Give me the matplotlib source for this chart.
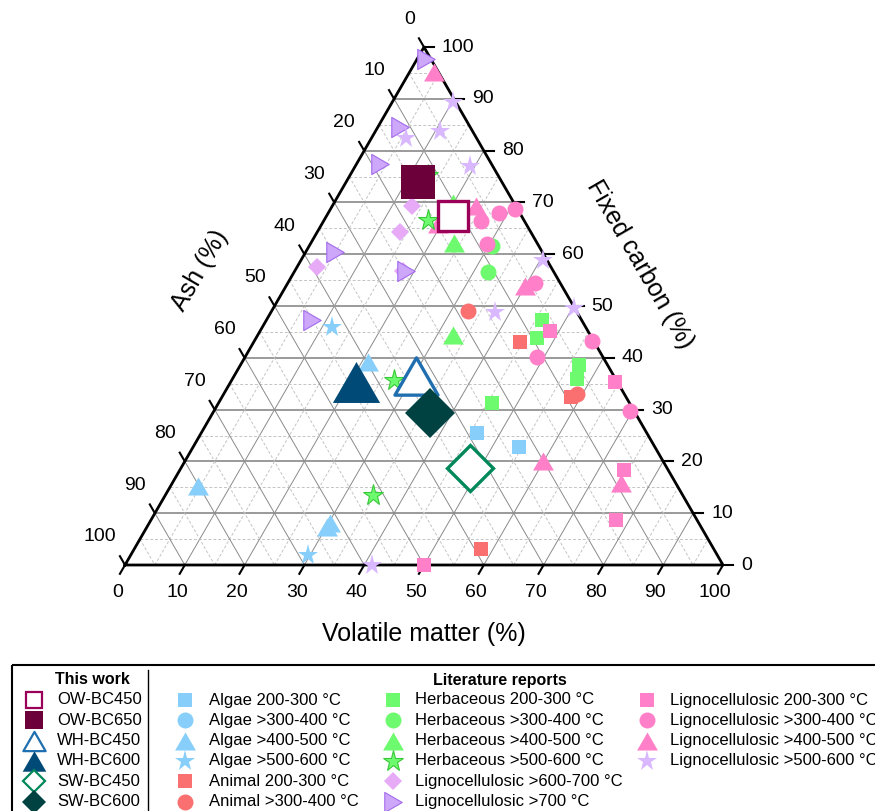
import numpy as np
import matplotlib.pyplot as plt
from matplotlib.path import Path
from matplotlib.patches import Rectangle

plt.rcParams['font.family'] = ['Liberation Sans', 'DejaVu Sans']

H = np.sqrt(3) / 2

# this work: volatile matter and fixed carbon (%), ash = 100 - VM - FC
work_labels = ['OW-BC450', 'OW-BC650', 'WH-BC450', 'WH-BC600', 'SW-BC450', 'SW-BC600']
work_vm = [21.2, 12.0, 30.4, 21.0, 48.3, 36.3]
work_fc = [67.4, 73.9, 36.5, 35.4, 18.7, 29.3]

# literature reports, (VM, FC) pairs
algae_200 = [(46.1, 25.4), (54.5, 22.8)]
algae_300 = []
algae_400 = [(21.1, 39.2), (4.6, 15.3), (30.0, 7.4), (30.3, 8.1)]
algae_500 = [(11.6, 46.0), (29.6, 1.9)]
animal_200 = [(44.5, 43.1), (58.4, 32.5), (57.9, 3.1)]
animal_300 = [(32.9, 49.0), (59.0, 33.1)]
herb_200 = [(46.0, 47.4), (47.0, 43.8), (56.7, 38.6), (57.6, 36.0), (45.7, 31.3)]
herb_300 = [(30.5, 61.6), (32.4, 56.6)]
herb_400 = [(19.9, 69.9), (23.9, 62.2), (32.7, 44.4)]
herb_500 = [(13.0, 75.3), (17.3, 66.7), (27.0, 35.8), (34.7, 13.5)]
ligno_600 = [(13.3, 69.3), (13.8, 64.3), (3.3, 57.6), (18.1, 56.8)]
ligno_700 = [(1.5, 97.8), (3.7, 84.6), (3.9, 77.5), (4.9, 60.5), (18.6, 56.8), (7.6, 47.3)]
ligno_200 = [(48.4, 45.2), (64.2, 35.4), (74.3, 18.3), (77.8, 8.6), (50.0, 0.0)]
ligno_300 = [(26.3, 66.5), (28.6, 67.9), (30.9, 68.7), (29.6, 61.9), (41.4, 54.4),
             (48.9, 40.1), (56.4, 43.3), (69.5, 29.8)]
ligno_400 = [(4.0, 95.2), (19.4, 65.8), (24.0, 69.3), (39.9, 53.9), (59.9, 20.1), (75.1, 15.8)]
ligno_500 = [(10.1, 89.4), (5.8, 82.4), (10.7, 83.8), (19.2, 77.0), (40.5, 58.9),
             (37.5, 48.8), (50.2, 49.6), (41.3, 0.0)]

lit_labels = ['Algae 200-300 °C', 'Algae >300-400 °C', 'Algae >400-500 °C', 'Algae >500-600 °C',
              'Animal 200-300 °C', 'Animal >300-400 °C',
              'Herbaceous 200-300 °C', 'Herbaceous >300-400 °C', 'Herbaceous >400-500 °C',
              'Herbaceous >500-600 °C', 'Lignocellulosic >600-700 °C', 'Lignocellulosic >700 °C',
              'Lignocellulosic 200-300 °C', 'Lignocellulosic >300-400 °C',
              'Lignocellulosic >400-500 °C', 'Lignocellulosic >500-600 °C']
lit_data = [algae_200, algae_300, algae_400, algae_500, animal_200, animal_300,
            herb_200, herb_300, herb_400, herb_500, ligno_600, ligno_700,
            ligno_200, ligno_300, ligno_400, ligno_500]


def closed(verts):
    return Path(verts + [(0, 0)], [Path.MOVETO] + [Path.LINETO] * (len(verts) - 1) + [Path.CLOSEPOLY])


TRI_UP = closed([(0, 0.5), (-0.577, -0.5), (0.577, -0.5)])
TRI_RIGHT = closed([(0.5, 0), (-0.5, 0.577), (-0.5, -0.577)])

C_ALGAE = '#87CEFA'
C_ANIMAL = '#FA7070'
C_HERB = '#6EFA6E'
C_LIGNO = '#FF80C8'

def sty(marker, color, ms, mec=None, mew=0.0):
    return dict(marker=marker, mfc=color, mec=mec or color, ms=ms, mew=mew)

lit_styles = [
    sty('s', C_ALGAE, 10.5), sty('o', C_ALGAE, 11.5), sty(TRI_UP, C_ALGAE, 15), sty('*', C_ALGAE, 15.5),
    sty('s', C_ANIMAL, 10.5), sty('o', C_ANIMAL, 11.5),
    sty('s', C_HERB, 10.5), sty('o', C_HERB, 11.5), sty(TRI_UP, C_HERB, 15),
    sty('*', C_HERB, 15.5, '#38C838', 0.8),
    sty('D', '#E6AAF7', 9.5), sty(TRI_RIGHT, '#CDA8FA', 14.5, '#A46AEC', 0.8),
    sty('s', C_LIGNO, 10.5), sty('o', C_LIGNO, 11.5), sty(TRI_UP, C_LIGNO, 15),
    sty('*', '#D9B8FF', 15.5),
]
# herbaceous stars are drawn last so they sit on top
draw_order = [0, 1, 2, 3, 4, 5, 6, 7, 8, 10, 11, 12, 13, 14, 15, 9]

work_styles = [
    dict(marker='s', mfc='white', mec='#9B0058', ms=22, mew=2.4),
    dict(marker='s', mfc='#6B003A', mec='#6B003A', ms=24.5, mew=0),
    dict(marker=TRI_UP, mfc='white', mec='#1F6FB0', ms=31, mew=2.4),
    dict(marker=TRI_UP, mfc='#004A78', mec='#004A78', ms=34, mew=0),
    dict(marker='D', mfc='white', mec='#00875A', ms=23, mew=2.4),
    dict(marker='D', mfc='#004242', mec='#004242', ms=25.5, mew=0),
]
work_legend_ms = [12, 13, 16, 17, 11, 12]


def tern(vm, fc):
    vm = np.asarray(vm, dtype=float)
    fc = np.asarray(fc, dtype=float)
    return vm + fc / 2, fc * H


fig = plt.figure(figsize=(8.75, 8.11), dpi=100)
ax = fig.add_axes([0, 0, 1, 1])
ax.set_xlim(-125 / 5.98, 750 / 5.98)
ax.set_ylim(-246 / 5.98, 565 / 5.98)
ax.set_aspect('equal')
ax.axis('off')

# grid: solid every 10 %, dashed every 5 %
for k in range(5, 100, 5):
    major = k % 10 == 0
    lines = [((k / 2, 100 - k / 2), (k * H, k * H)),                       # fixed carbon
             ((k, k + (100 - k) / 2), (0, (100 - k) * H)),                 # volatile matter
             (((100 - k) / 2, 100 - k), ((100 - k) * H, 0))]               # ash
    for i, (xs, ys) in enumerate(lines):
        if major:
            if i == 0:
                ax.plot(xs, ys, color='#9a9a9a', lw=1.4, zorder=1)
            else:
                ax.plot(xs, ys, color='#8a8a8a', lw=0.7, zorder=1)
        else:
            ax.plot(xs, ys, color='#c4c4c4', lw=0.7, ls=(0, (3, 2)), zorder=1)

ax.plot([0, 100, 50, 0], [0, 0, 100 * H, 0], color='black', lw=2, zorder=2)

L = 1.7
for v in range(0, 101, 10):
    # bottom axis: volatile matter
    ax.plot([v, v - 0.5 * L], [0, -H * L], color='black', lw=1.5)
    ax.text(v - 1.3, -4.6, str(v), ha='center', va='center', fontsize=14)
    # right axis: fixed carbon
    xr, yr = 100 - v / 2, v * H
    ax.plot([xr, xr + L], [yr, yr], color='black', lw=1.5)
    ax.text(xr + 3.0, yr, str(v), ha='left', va='center', fontsize=14)
    # left axis: ash
    xl, yl = (100 - v) / 2, (100 - v) * H
    ax.plot([xl, xl - 0.5 * L], [yl, yl + H * L], color='black', lw=1.5)
    ax.text(xl - 1.5, yl + 4.7, str(v), ha='right', va='center', fontsize=14)

ax.text(50, -11.6, 'Volatile matter (%)', ha='center', va='center', fontsize=18)
ax.text(12.5, 49.3, 'Ash (%)', ha='center', va='center', fontsize=18, rotation=60)
ax.text(86.1, 50.2, 'Fixed carbon (%)', ha='center', va='center', fontsize=18, rotation=-60)

for i in draw_order:
    pts = lit_data[i]
    if not pts:
        continue
    vm, fc = zip(*pts)
    x, y = tern(vm, fc)
    ax.plot(x, y, ls='none', zorder=3, **lit_styles[i])

for vm, fc, st in zip(work_vm, work_fc, work_styles):
    x, y = tern([vm], [fc])
    ax.plot(x, y, ls='none', zorder=4, **st)

# legend panel in pixel coordinates
lax = fig.add_axes([0, 0, 1, 1])
lax.set_xlim(0, 875)
lax.set_ylim(811, 0)
lax.axis('off')
lax.add_patch(Rectangle((12, 665), 880, 160, fill=False, lw=1.5, ec='black', clip_on=False))
lax.plot([148, 148], [670, 811], color='black', lw=1)
lax.text(92, 680, 'This work', ha='center', va='center', fontsize=11.5, fontweight='bold')
lax.text(500, 680, 'Literature reports', ha='center', va='center', fontsize=11.5, fontweight='bold')

row_y = 700 + 20.3 * np.arange(6)
for j, (lab, st) in enumerate(zip(work_labels, work_styles)):
    s = dict(st)
    s['ms'] = work_legend_ms[j]
    if s['mew']:
        s['mew'] = 1.6
    lax.plot([34], [row_y[j]], ls='none', clip_on=False, **s)
    lax.text(57, row_y[j], lab, ha='left', va='center', fontsize=12)

col_mx = [185, 393, 647]
col_tx = [209, 415, 670]
for i, (lab, st) in enumerate(zip(lit_labels, lit_styles)):
    c, r = divmod(i, 6)
    lax.plot([col_mx[c]], [row_y[r]], ls='none', clip_on=False, **st)
    lax.text(col_tx[c], row_y[r], lab, ha='left', va='center', fontsize=12)

fig.savefig('out.png', dpi=100)
